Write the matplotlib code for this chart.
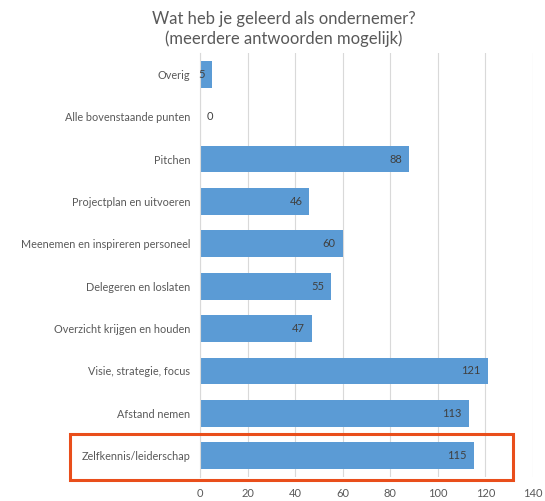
import matplotlib.pyplot as plt
from matplotlib.patches import Rectangle

# survey answers, top to bottom as shown
categories = [
    "Overig",
    "Alle bovenstaande punten",
    "Pitchen",
    "Projectplan en uitvoeren",
    "Meenemen en inspireren personeel",
    "Delegeren en loslaten",
    "Overzicht krijgen en houden",
    "Visie, strategie, focus",
    "Afstand nemen",
    "Zelfkennis/leiderschap",
]
counts = [5, 0, 88, 46, 60, 55, 47, 121, 113, 115]
x_ticks = [0, 20, 40, 60, 80, 100, 120, 140]

bar_color = "#5B9BD5"
text_color = "#595959"
grid_color = "#D9D9D9"

plt.rcParams["font.family"] = ["Lato", "DejaVu Sans"]

fig = plt.figure(figsize=(5.45, 5.01), dpi=100)
ax = fig.add_axes([0.367, 0.048, 0.611, 0.846])

y = list(range(len(categories)))
ax.barh(y, counts, height=0.63, color=bar_color, zorder=2)

for yi, val in zip(y, counts):
    if val < 3:
        ax.annotate(str(val), (val, yi), xytext=(5, 0), textcoords="offset points",
                    ha="left", va="center", fontsize=8, color="#404040")
    else:
        ax.annotate(str(val), (val, yi), xytext=(-5, 0), textcoords="offset points",
                    ha="right", va="center", fontsize=8, color="#404040", zorder=3)

ax.set_ylim(len(categories) - 0.5, -0.5)
ax.set_xlim(0, 140)
ax.set_yticks(y)
ax.set_yticklabels(categories, fontsize=7.8, color=text_color)
ax.set_xticks(x_ticks)
ax.set_xticklabels([str(t) for t in x_ticks], fontsize=8, color=text_color)
ax.tick_params(length=0)
ax.tick_params(axis="x", pad=8)
ax.tick_params(axis="y", pad=7)

ax.grid(axis="x", color=grid_color, linewidth=0.8, zorder=0)
ax.set_axisbelow(True)
for side in ["top", "right", "bottom"]:
    ax.spines[side].set_visible(False)
ax.spines["left"].set_color(grid_color)
ax.spines["left"].set_linewidth(0.8)

fig.text(0.521, 0.942, "Wat heb je geleerd als ondernemer?\n(meerdere antwoorden mogelijk)",
         ha="center", va="center", fontsize=12, color=text_color, linespacing=1.2)

# highlight box round the last answer
fig.add_artist(Rectangle((70 / 545, 1 - 480 / 501), (513 - 70) / 545, (480 - 434) / 501,
                         transform=fig.transFigure, fill=False,
                         edgecolor="#E94E1B", linewidth=2.2))

fig.savefig("out.png", dpi=100)
